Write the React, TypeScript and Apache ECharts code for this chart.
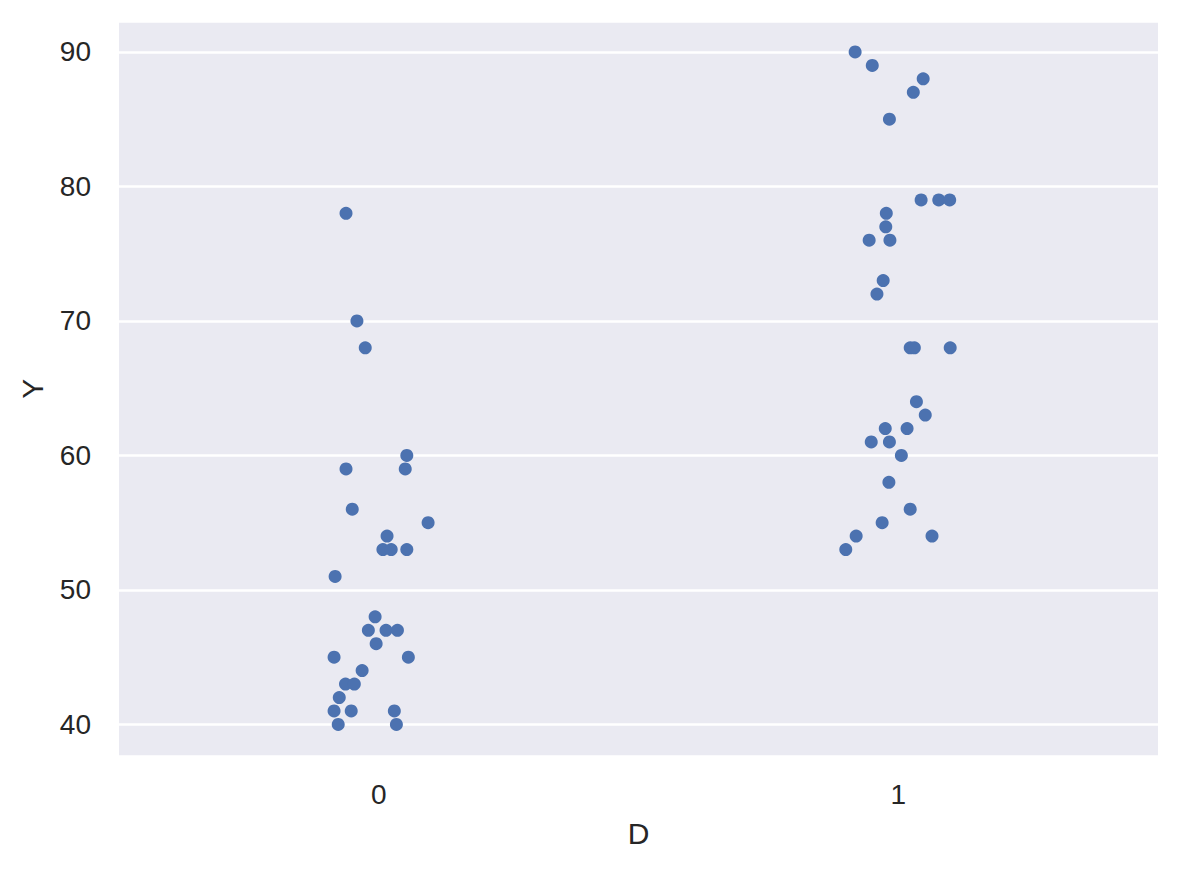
import React, { useEffect, useRef } from "react";
import * as echarts from "echarts";

const categories = [0, 1];
const jitter0 = [-0.063, -0.042, -0.026, -0.063, 0.051, 0.054, -0.051, 0.095, 0.016, 0.008, 0.024, 0.054, -0.084, -0.007, -0.02, 0.014, 0.036, -0.005, -0.086, 0.057, -0.032, -0.064, -0.047, -0.076, -0.086, -0.053, 0.03, -0.078, 0.034];
const y0 = [78, 70, 68, 59, 59, 60, 56, 55, 54, 53, 53, 53, 51, 48, 47, 47, 47, 46, 45, 45, 44, 43, 43, 42, 41, 41, 41, 40, 40];
const jitter1 = [-0.083, -0.05, 0.048, 0.029, -0.017, 0.044, 0.078, 0.099, -0.023, -0.024, -0.056, -0.016, -0.029, -0.041, 0.023, 0.031, 0.1, 0.035, 0.052, -0.025, 0.017, -0.052, -0.017, 0.006, -0.018, 0.023, -0.031, -0.081, 0.065, -0.101];
const y1 = [90, 89, 88, 87, 85, 79, 79, 79, 78, 77, 76, 76, 73, 72, 68, 68, 68, 64, 63, 62, 62, 61, 61, 60, 58, 56, 55, 54, 54, 53];

const xName = "D";
const yName = "Y";
const textColor = "#262626";
const font = "Arial, 'Liberation Sans', sans-serif";

export default function App() {
  const ref = useRef<HTMLDivElement>(null);
  useEffect(() => {
    if (!ref.current) return;
    const chart = echarts.init(ref.current, undefined, { renderer: "svg" });
    const data: number[][] = [];
    jitter0.forEach((j, i) => data.push([categories[0] + j, y0[i]]));
    jitter1.forEach((j, i) => data.push([categories[1] + j, y1[i]]));
    chart.setOption({
      animation: false,
      backgroundColor: "#ffffff",
      grid: { left: 119, right: 19, top: 21, bottom: 113.3, show: true, backgroundColor: "#EAEAF2", borderWidth: 0 },
      xAxis: {
        type: "value",
        min: -0.5,
        max: 1.5,
        interval: 0.5,
        name: xName,
        nameLocation: "middle",
        nameGap: 62,
        nameTextStyle: { color: textColor, fontSize: 30, fontFamily: font },
        axisLine: { show: false },
        axisTick: { show: false },
        splitLine: { show: false },
        axisLabel: {
          color: textColor,
          fontSize: 28,
          fontFamily: font,
          margin: 24,
          formatter: (v: number) => (categories.includes(v) ? String(v) : ""),
        },
      },
      yAxis: {
        type: "value",
        min: 37.6,
        max: 92.3,
        name: yName,
        nameLocation: "middle",
        nameGap: 72,
        nameTextStyle: { color: textColor, fontSize: 30, fontFamily: font },
        axisLine: { show: false },
        axisTick: { show: false },
        splitLine: { show: true, lineStyle: { color: "#ffffff", width: 2.5 } },
        axisLabel: {
          color: textColor,
          fontSize: 28,
          fontFamily: font,
          margin: 28,
          showMinLabel: false,
          showMaxLabel: false,
          formatter: (v: number) => (v % 10 === 0 ? String(v) : ""),
        },
      },
      series: [
        {
          type: "scatter",
          data,
          symbolSize: 13,
          itemStyle: { color: "#4C72B0", opacity: 1 },
        },
      ],
    });
    return () => chart.dispose();
  }, []);
  return <div ref={ref} style={{ position: "fixed", left: 0, top: 0, width: 1177, height: 870 }} />;
}
